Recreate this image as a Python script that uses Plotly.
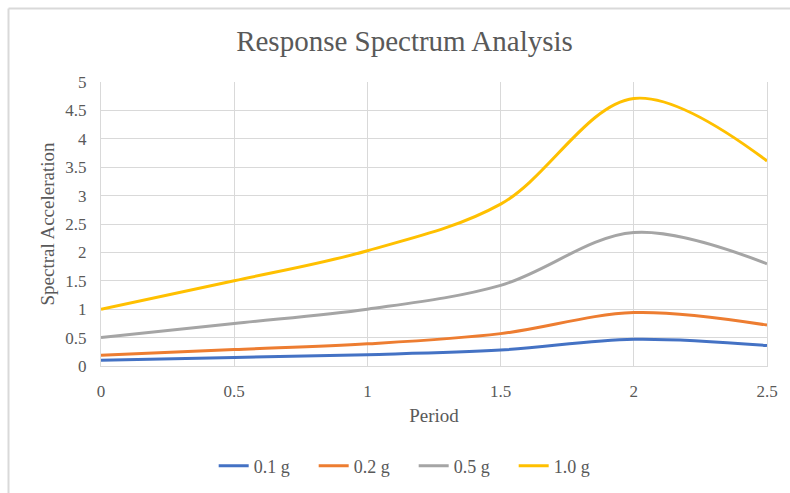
import plotly.graph_objects as go

period = [0, 0.5, 1.0, 1.5, 2.0, 2.5]
sa_01g = [0.10, 0.15, 0.20, 0.28, 0.47, 0.36]
sa_02g = [0.19, 0.29, 0.39, 0.57, 0.94, 0.72]
sa_05g = [0.50, 0.75, 1.00, 1.42, 2.35, 1.80]
sa_10g = [1.00, 1.50, 2.03, 2.85, 4.71, 3.61]

series_names = ["0.1 g", "0.2 g", "0.5 g", "1.0 g"]
series_vals = [sa_01g, sa_02g, sa_05g, sa_10g]
series_colors = ["#4472C4", "#ED7D31", "#A5A5A5", "#FFC000"]

x_ticks = [0, 0.5, 1, 1.5, 2, 2.5]
x_ticktext = ["0", "0.5", "1", "1.5", "2", "2.5"]
y_ticks = [0, 0.5, 1, 1.5, 2, 2.5, 3, 3.5, 4, 4.5, 5]
y_ticktext = ["0", "0.5", "1", "1.5", "2", "2.5", "3", "3.5", "4", "4.5", "5"]

FONT = "Liberation Serif, Times New Roman, serif"
GRAY = "#595959"

fig = go.Figure()
for name, vals, col in zip(series_names, series_vals, series_colors):
    fig.add_trace(go.Scatter(
        x=period, y=vals, name=name, mode="lines",
        line=dict(color=col, width=3, shape="spline", smoothing=1.0),
    ))

fig.update_layout(
    width=790, height=493,
    margin=dict(l=101, r=23, t=82, b=127, autoexpand=False),
    paper_bgcolor="white", plot_bgcolor="white",
    font=dict(family=FONT, color=GRAY, size=17),
    title=dict(text="Response Spectrum Analysis", x=0.512, xref="container",
               y=1 - 41 / 493, yref="container", xanchor="center", yanchor="middle",
               font=dict(family=FONT, size=29, color=GRAY)),
    xaxis=dict(range=[0, 2.5], tickvals=x_ticks, ticktext=x_ticktext,
               showgrid=True, gridcolor="#D9D9D9", gridwidth=1,
               zeroline=False, showline=True, linecolor="#D9D9D9", linewidth=1,
               ticks="", tickfont=dict(size=17, color=GRAY), ticklabelstandoff=10,
               title=dict(text="Period", font=dict(size=19, color=GRAY), standoff=8),
               fixedrange=True),
    yaxis=dict(range=[0, 5], tickvals=y_ticks, ticktext=y_ticktext,
               showgrid=True, gridcolor="#D9D9D9", gridwidth=1,
               zeroline=False, showline=True, linecolor="#D9D9D9", linewidth=1, mirror=True,
               ticks="", tickfont=dict(size=17, color=GRAY), ticklabelstandoff=10,
               title=dict(text="Spectral Acceleration", font=dict(size=19, color=GRAY), standoff=5),
               fixedrange=True),
    legend=dict(orientation="h", x=0.4695, xanchor="center", y=-0.352, yanchor="middle",
                font=dict(size=18, color=GRAY), entrywidth=55, entrywidthmode="pixels",
                bgcolor="rgba(0,0,0,0)"),
    showlegend=True,
)

# outer chart frame (visible only at left and top in the reference)
fig.add_shape(type="line", xref="paper", yref="paper",
              x0=(8.5 - 101) / 666, x1=1.2, y0=(366 - 8.5) / 284, y1=(366 - 8.5) / 284,
              line=dict(color="#D9D9D9", width=2))
fig.add_shape(type="line", xref="paper", yref="paper",
              x0=(8.5 - 101) / 666, x1=(8.5 - 101) / 666, y0=(366 - 8.5) / 284, y1=-0.6,
              line=dict(color="#D9D9D9", width=2))

fig.write_html("out.html")
